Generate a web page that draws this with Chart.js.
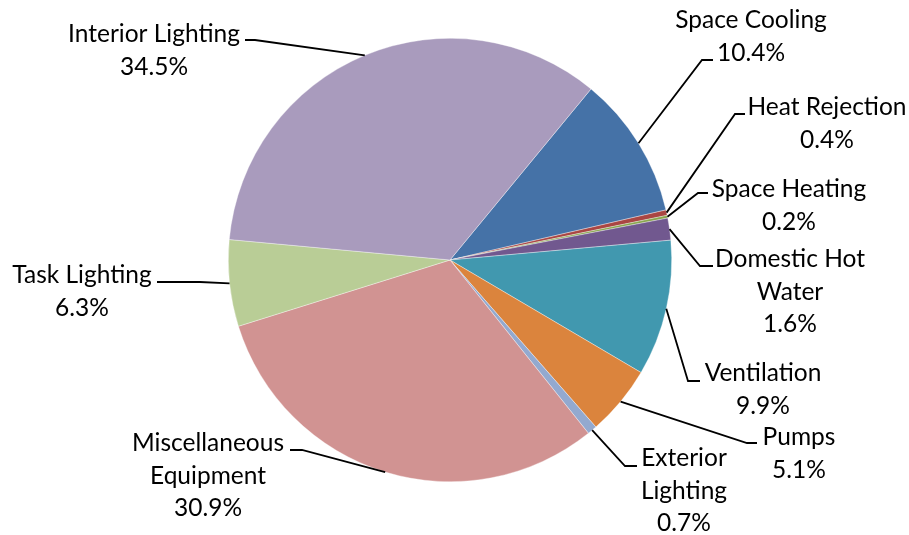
<!DOCTYPE html>
<html>
<head>
<meta charset="utf-8">
<script src="https://cdn.jsdelivr.net/npm/chart.js@4/dist/chart.umd.min.js"></script>
<style>
  html, body { margin: 0; padding: 0; background: #fff; }
  #wrap { width: 909px; height: 535px; }
</style>
</head>
<body>
<div id="wrap"><canvas id="pie" width="909" height="535"></canvas></div>
<script>
// data, clockwise starting from Space Cooling
const categories = ['Space Cooling', 'Heat Rejection', 'Space Heating', 'Domestic Hot Water', 'Ventilation',
  'Pumps', 'Exterior Lighting', 'Miscellaneous Equipment', 'Task Lighting', 'Interior Lighting'];
const shares = [10.4, 0.4, 0.2, 1.6, 9.9, 5.1, 0.7, 30.9, 6.3, 34.5];
const sliceColors = ['#4572A7', '#AA4643', '#89A54E', '#71588F', '#4198AF',
  '#DB843D', '#93A9CF', '#D19392', '#B9CD96', '#A99BBD'];

// label placement: wrapped name, text centre x, first baseline y, elbow, end of leader
const labelLayout = [
  { lines: ['Space Cooling'], cx: 751, y: 28, elbow: [702, 60], end: [713, 60] },
  { lines: ['Heat Rejection'], cx: 827, y: 115, elbow: [735, 114], end: [745, 114] },
  { lines: ['Space Heating'], cx: 789, y: 197, elbow: [698, 193], end: [708, 193] },
  { lines: ['Domestic Hot', 'Water'], cx: 790, y: 267, elbow: [700, 266], end: [713, 266] },
  { lines: ['Ventilation'], cx: 763, y: 381, elbow: [688, 381], end: [700, 381] },
  { lines: ['Pumps'], cx: 799, y: 445, elbow: [747, 443], end: [757, 443] },
  { lines: ['Exterior', 'Lighting'], cx: 684, y: 466, elbow: [625, 466], end: [637, 466] },
  { lines: ['Miscellaneous', 'Equipment'], cx: 208, y: 451, elbow: [302, 450], end: [290, 450] },
  { lines: ['Task Lighting'], cx: 82, y: 283, elbow: [200, 282], end: [157, 282] },
  { lines: ['Interior Lighting'], cx: 154, y: 42, elbow: [255, 40], end: [245, 40] },
];

const FONT = '24.5px Lato';
const LINE_H = 32.5;

const leaderLabels = {
  id: 'leaderLabels',
  afterDatasetsDraw(chart) {
    const ctx = chart.ctx;
    const meta = chart.getDatasetMeta(0);
    const data = chart.data.datasets[0].data;
    const total = data.reduce((a, b) => a + b, 0);
    ctx.save();
    meta.data.forEach((arc, i) => {
      const p = arc.getProps(['x', 'y', 'startAngle', 'endAngle', 'outerRadius'], true);
      const mid = (p.startAngle + p.endAngle) / 2;
      const sx = p.x + Math.cos(mid) * p.outerRadius;
      const sy = p.y + Math.sin(mid) * p.outerRadius;
      const lay = labelLayout[i];

      ctx.strokeStyle = '#000';
      ctx.lineWidth = 1.8;
      ctx.beginPath();
      ctx.moveTo(sx, sy);
      ctx.lineTo(lay.elbow[0], lay.elbow[1]);
      ctx.lineTo(lay.end[0], lay.end[1]);
      ctx.stroke();

      const pct = (data[i] / total * 100).toFixed(1) + '%';
      const lines = lay.lines.concat([pct]);
      ctx.fillStyle = '#000';
      ctx.font = FONT;
      ctx.textAlign = 'center';
      ctx.textBaseline = 'alphabetic';
      lines.forEach((t, k) => ctx.fillText(t, lay.cx, lay.y + k * LINE_H));
    });
    ctx.restore();
  }
};

new Chart(document.getElementById('pie'), {
  type: 'pie',
  data: {
    labels: categories,
    datasets: [{
      data: shares,
      backgroundColor: sliceColors,
      borderColor: 'rgba(255,255,255,0.6)',
      borderWidth: 0.6,
    }],
  },
  options: {
    responsive: false,
    animation: false,
    rotation: 39.5,
    layout: { padding: { left: 228, right: 237, top: 38, bottom: 53 } },
    plugins: {
      legend: { display: false },
      tooltip: { enabled: false },
    },
  },
  plugins: [leaderLabels],
});
</script>
</body>
</html>
